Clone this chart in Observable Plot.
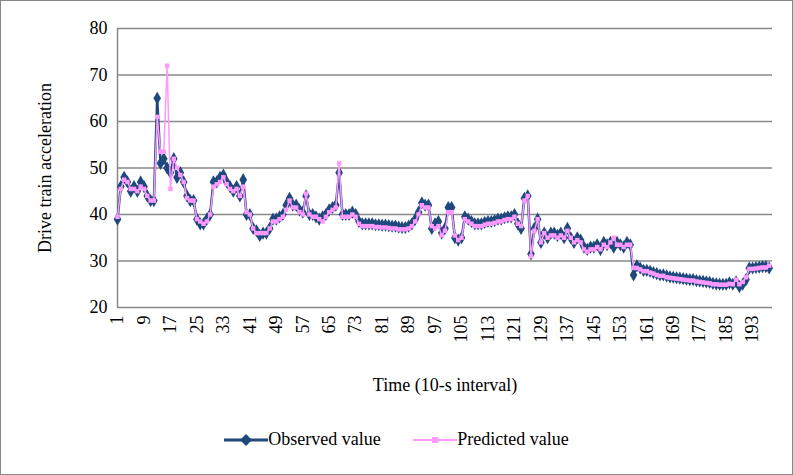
<!DOCTYPE html>
<html><head><meta charset="utf-8">
<script src="https://cdn.jsdelivr.net/npm/d3@7"></script>
<script src="https://cdn.jsdelivr.net/npm/@observablehq/plot@0.6"></script>
<style>
body{margin:0;background:#fff;font-family:'Liberation Serif','Times New Roman','DejaVu Serif',serif;}
#wrap{position:relative;width:791px;height:473px;border:1px solid #888;overflow:hidden;}
#legend{position:absolute;top:428px;left:0;width:791px;text-align:center;font-size:18px;}
#legend span{display:inline-flex;align-items:center;margin:0 14px;}
svg text{font-family:'Liberation Serif','Times New Roman','DejaVu Serif',serif;}
</style></head><body>
<div id="wrap"><div id="chart"></div>
<div id="legend">
<span><svg width="44" height="14"><line x1="0" y1="7" x2="44" y2="7" stroke="#1F497D" stroke-width="3"/><path d="M22 1 L28 7 L22 13 L16 7Z" fill="#1F497D"/></svg>Observed value</span>
<span><svg width="44" height="14"><line x1="0" y1="7" x2="44" y2="7" stroke="#FF99FF" stroke-width="2"/><rect x="19" y="4" width="6" height="6" fill="#FF99FF"/></svg>Predicted value</span>
</div></div>
<script>
const observed = [
39,46,48,47,45,46,45,47,46,44,43,43,
65,51,52,50,49,52,48,49,47,44,43,43,
39,38,38,39,40,47,47,48,48.5,47,46,45,
46,44,47.5,40,40,37,36.5,35.5,36,36,37,39,
39,39.5,40,42,43.5,42,42,41,40.5,44,40,40,
39.5,39,39.5,40,41,41.5,42,49,40,40,40,40.5,
40,38.5,38,38,38,38,37.8,37.8,37.7,37.7,37.6,37.5,
37.5,37.3,37.2,37.2,37.5,38,39,40.5,42.5,42,42,37,
38,38.5,36,37,41.5,41.5,35,34.5,35,39.5,39,38.5,
38,38,38,38.3,38.5,38.5,38.7,39,39,39.3,39.5,39.5,
40,38,37,43.5,44,31.5,37,39,34,36,35,36,
36,35.5,36,35,37,35,34,35,34.5,33,32.5,33,
33,33.5,32.5,34,33.5,34,33,34,33.5,33,34,33.5,
27,29,28.5,
28,28,27.8,27.5,27.3,27,27,26.8,26.6,26.5,26.4,26.3,
26.2,26.1,26,26,25.8,25.7,25.6,25.5,25.4,25.2,25.1,25,
25,25,25.3,25,25.5,24.5,25,26,
28.5,28.5,28.6,28.7,28.8,28.8,28.5
];
const predicted = [
39.5,45.5,47.5,47,45.5,45.5,45,46,45.5,44,43,43,
61,53.5,53.5,72,45.5,52,50,48.5,47,43.5,43,43,
39,38.5,38,38.5,40,46,46.5,47,48,46.5,45.5,45,
45.5,44,46,40.5,40,37,36,36,36,36,37,38.5,
38.5,39,39.5,41,43,41.5,41.5,40.5,40,44.5,40,39.5,
39.5,39,38.5,39.5,40.5,41,41.5,51,39.5,39.5,39.5,40,
39.5,38,37.5,37.5,37.5,37.5,37.3,37.3,37.2,37.2,37.1,37,
37,36.8,36.8,36.8,37,37.5,38.5,40,42,41.5,41.5,37.5,
37,37.5,35.5,36.5,40.5,40.5,35.5,34.5,35,39,38.5,38,
37.5,37.5,37.5,37.8,38,38,38.2,38.5,38.5,38.8,39,39,
39.5,38,37.5,43,44,31,36.5,39,34,36,35,35.5,
35.5,35,35.5,35,36.5,35,34,34.5,34,32.5,32,32.5,
32.5,33,32.5,33.5,33,34,35,33.5,33.5,33,33.5,33.5,
28.5,28.5,28.2,
27.8,27.8,27.5,27.3,27,26.8,26.8,26.5,26.4,26.3,26.2,26.1,
26,25.9,25.8,25.8,25.6,25.5,25.4,25.3,25.2,25,25,24.9,
24.9,24.9,25.1,25,26,25,25.5,26.5,
28.3,28.3,28.4,28.5,28.6,28.6,29
];
const xTicks = d3.range(1, 199, 8);
const rows = observed.map((v, i) => ({t: i + 1, obs: v, pred: predicted[i]}));

const chart = Plot.plot({
  width: 791, height: 410,
  marginTop: 27, marginBottom: 104, marginLeft: 116, marginRight: 20,
  style: {fontFamily: "'Liberation Serif', 'Times New Roman', serif", fontSize: "18px", color: "#000"},
  x: {domain: [1, 199], ticks: xTicks, tickSize: 0, tickRotate: -90, tickPadding: 8, label: null},
  y: {domain: [20, 80], ticks: [20,30,40,50,60,70,80], tickSize: 0, tickPadding: 10, label: null},
  marks: [
    Plot.gridY([20,30,40,50,60,70,80], {stroke: "#888", strokeOpacity: 1, strokeWidth: 1.5}),
    Plot.ruleX([1], {stroke: "#888", strokeWidth: 1.5}),
    Plot.line(rows, {x: "t", y: "obs", stroke: "#1F497D", strokeWidth: 2.5}),
    Plot.dot(rows, {x: "t", y: "obs", symbol: "diamond", r: 4, fill: "#1F497D"}),
    Plot.line(rows, {x: "t", y: "pred", stroke: "#FF99FF", strokeWidth: 1.5}),
    Plot.dot(rows, {x: "t", y: "pred", symbol: "square", r: 2.5, fill: "#FF99FF"}),
    Plot.text(["Time (10-s interval)"], {frameAnchor: "bottom", dy: 83, fontSize: 18}),
    Plot.text(["Drive train acceleration"], {frameAnchor: "left", dx: -72, rotate: -90, textAnchor: "middle", fontSize: 18})
  ]
});
document.getElementById("chart").append(chart);
</script></body></html>
